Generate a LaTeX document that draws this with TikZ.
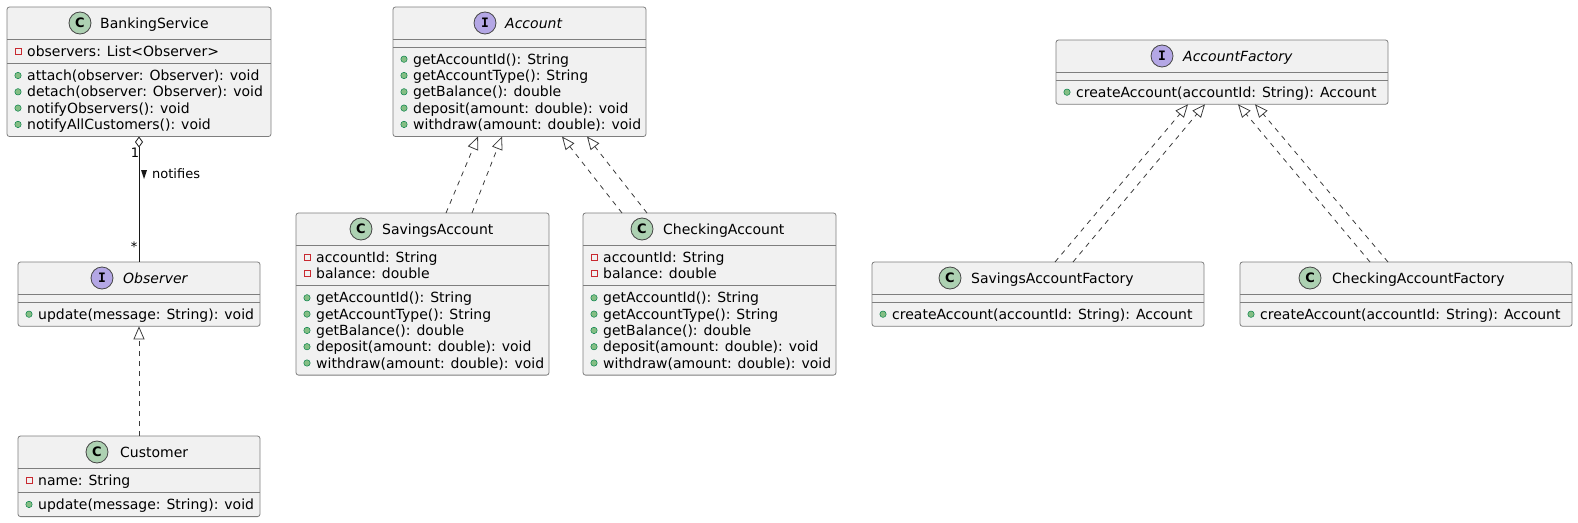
\documentclass[tikz,border=0pt]{standalone}
\usepackage{fontspec}
\setmainfont{DejaVu Sans}
\newfontfamily\iconmono{DejaVu Sans Mono}
\usetikzlibrary{arrows.meta,calc}
\definecolor{boxfill}{HTML}{F1F1F1}
\definecolor{linec}{HTML}{181818}
\definecolor{boxline}{HTML}{7E7E7E}
\definecolor{cfill}{HTML}{ADD1B2}
\definecolor{ifill}{HTML}{B4A7E5}
\definecolor{privc}{HTML}{C82930}
\definecolor{pubfill}{HTML}{84BE84}
\definecolor{pubdraw}{HTML}{038048}
\newcounter{mrow}
\newcommand\PrivRow[3]{\stepcounter{mrow}%
  \draw[privicon] (#1+8,#2-3) rectangle (#1+14,#2+3);
  \node[member] (row\arabic{mrow}) at (#1+20,#2+5) {#3};}
\newcommand\PubRow[3]{\stepcounter{mrow}%
  \filldraw[pubicon] (#1+11,#2) circle (3.2pt);
  \node[member] (row\arabic{mrow}) at (#1+20,#2+5) {#3};}
\tikzset{
  umlbox/.style={draw=boxline, line width=0.8pt, fill=boxfill, rounded corners=2.5pt,
    anchor=north west, inner sep=0pt, outer sep=0pt},
  sepline/.style={draw=boxline, line width=0.8pt},
  member/.style={anchor=base west, inner sep=0pt, font=\fontsize{14}{16.3}\selectfont},
  title/.style={anchor=base west, inner sep=0pt, font=\fontsize{14}{16.3}\selectfont},
  ititle/.style={title, font=\fontsize{14}{16.3}\selectfont\itshape},
  cicon/.style={circle, draw=linec!80, line width=0.8pt, fill=cfill, minimum size=22pt,
    inner sep=0pt, font=\fontsize{13}{13}\selectfont\bfseries},
  iicon/.style={circle, draw=linec!80, line width=0.8pt, fill=ifill, minimum size=22pt,
    inner sep=0pt, font=\fontsize{13}{13}\selectfont\iconmono\bfseries},
  privicon/.style={draw=privc, line width=0.8pt, fill=none},
  pubicon/.style={draw=pubdraw, fill=pubfill, line width=0.5pt},
  assoc/.style={draw=linec, line width=1pt},
  real/.style={draw=linec!85, line width=0.8pt, dash pattern=on 5pt off 5pt,
    -{Triangle[open, length=13pt, width=11pt, line width=0.8pt]}},
  lbl/.style={inner sep=0pt, font=\fontsize{13}{13}\selectfont},
}
\begin{document}
\begin{tikzpicture}[x=1pt,y=-1pt]
\useasboundingbox (0,0) rectangle (1578,522);

% ---------- BankingService ----------
\node[umlbox, minimum width=264pt, minimum height=129.5pt] (bs) at (7,7) {};
\draw[sepline] (bs.west |- 0,39) -- (bs.east |- 0,39);
\draw[sepline] (bs.west |- 0,63.3) -- (bs.east |- 0,63.3);
\node[cicon] (bsI) at (80,23) {C};
\node[title] (bsT) at (100,28) {BankingService};
\PrivRow{7}{51.2}{observers: List<Observer>}
\PubRow{7}{75.5}{attach(observer: Observer): void}
\PubRow{7}{91.8}{detach(observer: Observer): void}
\PubRow{7}{108.1}{notifyObservers(): void}
\PubRow{7}{124.4}{notifyAllCustomers(): void}

% ---------- Observer ----------
\node[umlbox, minimum width=242pt, minimum height=64.3pt] (obs) at (18,262) {};
\draw[sepline] (obs.west |- 0,294) -- (obs.east |- 0,294);
\draw[sepline] (obs.west |- 0,302) -- (obs.east |- 0,302);
\node[iicon] (obsI) at (102,278) {I};
\node[ititle] (obsT) at (123,283) {Observer};
\PubRow{18}{314.2}{update(message: String): void}

% ---------- Customer ----------
\node[umlbox, minimum width=242pt, minimum height=80.6pt] (cust) at (18,436) {};
\draw[sepline] (cust.west |- 0,468) -- (cust.east |- 0,468);
\draw[sepline] (cust.west |- 0,492.3) -- (cust.east |- 0,492.3);
\node[cicon] (custI) at (97,452) {C};
\node[title] (custT) at (120,457) {Customer};
\PrivRow{18}{480.2}{name: String}
\PubRow{18}{504.4}{update(message: String): void}

% ---------- Account ----------
\node[umlbox, minimum width=253pt, minimum height=129.5pt] (acc) at (393,7) {};
\draw[sepline] (acc.west |- 0,39) -- (acc.east |- 0,39);
\draw[sepline] (acc.west |- 0,47) -- (acc.east |- 0,47);
\node[iicon] (accI) at (485,23) {I};
\node[ititle] (accT) at (505,28) {Account};
\PubRow{393}{59.2}{getAccountId(): String}
\PubRow{393}{75.5}{getAccountType(): String}
\PubRow{393}{91.8}{getBalance(): double}
\PubRow{393}{108.1}{deposit(amount: double): void}
\PubRow{393}{124.4}{withdraw(amount: double): void}

% ---------- SavingsAccount ----------
\node[umlbox, minimum width=253pt, minimum height=162.1pt] (sa) at (296,213) {};
\draw[sepline] (sa.west |- 0,245) -- (sa.east |- 0,245);
\draw[sepline] (sa.west |- 0,285.6) -- (sa.east |- 0,285.6);
\node[cicon] (saI) at (361,229) {C};
\node[title] (saT) at (382,234) {SavingsAccount};
\PrivRow{296}{257.2}{accountId: String}
\PrivRow{296}{273.5}{balance: double}
\PubRow{296}{297.8}{getAccountId(): String}
\PubRow{296}{314.1}{getAccountType(): String}
\PubRow{296}{330.4}{getBalance(): double}
\PubRow{296}{346.7}{deposit(amount: double): void}
\PubRow{296}{363}{withdraw(amount: double): void}

% ---------- CheckingAccount ----------
\node[umlbox, minimum width=253pt, minimum height=162.1pt] (ca) at (583,213) {};
\draw[sepline] (ca.west |- 0,245) -- (ca.east |- 0,245);
\draw[sepline] (ca.west |- 0,285.6) -- (ca.east |- 0,285.6);
\node[cicon] (caI) at (642,229) {C};
\node[title] (caT) at (663,234) {CheckingAccount};
\PrivRow{583}{257.2}{accountId: String}
\PrivRow{583}{273.5}{balance: double}
\PubRow{583}{297.8}{getAccountId(): String}
\PubRow{583}{314.1}{getAccountType(): String}
\PubRow{583}{330.4}{getBalance(): double}
\PubRow{583}{346.7}{deposit(amount: double): void}
\PubRow{583}{363}{withdraw(amount: double): void}

% ---------- AccountFactory ----------
\node[umlbox, minimum width=332pt, minimum height=64.3pt] (af) at (1056,40) {};
\draw[sepline] (af.west |- 0,72) -- (af.east |- 0,72);
\draw[sepline] (af.west |- 0,80) -- (af.east |- 0,80);
\node[iicon] (afI) at (1162,56) {I};
\node[ititle] (afT) at (1183,61) {AccountFactory};
\PubRow{1056}{92.2}{createAccount(accountId: String): Account}

% ---------- SavingsAccountFactory ----------
\node[umlbox, minimum width=332pt, minimum height=64.3pt] (saf) at (872,262) {};
\draw[sepline] (saf.west |- 0,294) -- (saf.east |- 0,294);
\draw[sepline] (saf.west |- 0,302) -- (saf.east |- 0,302);
\node[cicon] (safI) at (950,278) {C};
\node[title] (safT) at (971,283) {SavingsAccountFactory};
\PubRow{872}{314.2}{createAccount(accountId: String): Account}

% ---------- CheckingAccountFactory ----------
\node[umlbox, minimum width=332pt, minimum height=64.3pt] (caf) at (1240,262) {};
\draw[sepline] (caf.west |- 0,294) -- (caf.east |- 0,294);
\draw[sepline] (caf.west |- 0,302) -- (caf.east |- 0,302);
\node[cicon] (cafI) at (1310,278) {C};
\node[title] (cafT) at (1332,283) {CheckingAccountFactory};
\PubRow{1240}{314.2}{createAccount(accountId: String): Account}

% ---------- connectors ----------
\draw[assoc, {Diamond[open, length=11pt, width=8pt, line width=0.8pt]}-]
  ([xshift=132pt]bs.south west) -- ([xshift=121pt]obs.north west);
\node[lbl] (one) at (135,153) {1};
\node[lbl] (star) at (134,247) {*};
\fill[linec] (141,170) -- (147,170) -- (144,179) -- cycle;
\node[lbl, anchor=west] (notif) at (152,174) {notifies};

\draw[real] ([xshift=121pt]cust.north west) -- ([xshift=121pt]obs.south west);

\draw[real] ([xshift=150pt]sa.north west) -- ([xshift=85pt]acc.south west);
\draw[real] ([xshift=176pt]sa.north west) -- ([xshift=109pt]acc.south west);
\draw[real] ([xshift=39pt]ca.north west) -- ([xshift=169pt]acc.south west);
\draw[real] ([xshift=64pt]ca.north west) -- ([xshift=194pt]acc.south west);

\draw[real] ([xshift=183pt]saf.north west) -- ([xshift=132pt]af.south west);
\draw[real] ([xshift=201pt]saf.north west) -- ([xshift=149pt]af.south west);
\draw[real] ([xshift=130pt]caf.north west) -- ([xshift=182pt]af.south west);
\draw[real] ([xshift=148pt]caf.north west) -- ([xshift=199pt]af.south west);
\end{tikzpicture}
\end{document}
